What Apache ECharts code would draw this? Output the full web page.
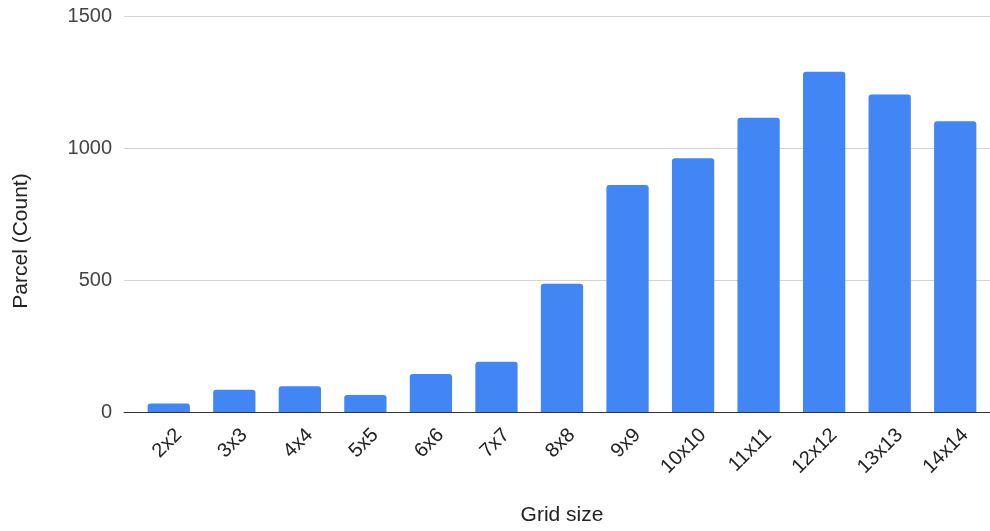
<!DOCTYPE html>
<html>
<head>
<meta charset="utf-8">
<script src="https://cdn.jsdelivr.net/npm/echarts@6/dist/echarts.min.js"></script>
<style>
  html, body { margin: 0; padding: 0; background: #fff; }
  #chart { width: 990px; height: 531px; }
</style>
</head>
<body>
<div id="chart"></div>
<script>
// Parcel counts per grid size
const gridSizes = ['2x2', '3x3', '4x4', '5x5', '6x6', '7x7', '8x8', '9x9', '10x10', '11x11', '12x12', '13x13', '14x14'];
const parcelCounts = [32, 84, 98, 64, 144, 190, 486, 860, 961, 1115, 1289, 1203, 1101];
const yTicks = [0, 500, 1000, 1500];

const FONT = '"Liberation Sans", Arial, sans-serif';
const yMin = yTicks[0];
const yMax = yTicks[yTicks.length - 1];
const yStep = yTicks[1] - yTicks[0];

const chart = echarts.init(document.getElementById('chart'), null, { renderer: 'canvas' });

chart.setOption({
  animation: false,
  backgroundColor: '#ffffff',
  textStyle: { fontFamily: FONT },
  grid: [
    // gridlines, value labels and baseline
    { left: 124, right: 0, top: 16, bottom: 119, outerBoundsMode: 'none', containLabel: false },
    // bars and category labels
    { left: 136, right: 2, top: 16, bottom: 119, outerBoundsMode: 'none', containLabel: false }
  ],
  xAxis: [
    {
      gridIndex: 0, type: 'value', min: 0, max: 1,
      axisLine: { show: true, onZero: false, lineStyle: { color: '#333333', width: 1 } },
      axisTick: { show: false }, axisLabel: { show: false }, splitLine: { show: false }
    },
    {
      gridIndex: 1, type: 'category', data: gridSizes,
      axisLine: { show: false }, axisTick: { show: false },
      axisLabel: {
        rotate: 45, interval: 0, margin: 10,
        align: 'right', verticalAlign: 'top', lineHeight: 28,
        color: '#222222', fontSize: 20, fontFamily: FONT
      },
      name: 'Grid size', nameLocation: 'middle', nameGap: 93,
      nameTextStyle: { color: '#222222', fontSize: 21, fontFamily: FONT }
    }
  ],
  yAxis: [
    {
      gridIndex: 0, type: 'value', min: yMin, max: yMax, interval: yStep,
      axisLine: { show: false }, axisTick: { show: false },
      axisLabel: { color: '#444444', fontSize: 20, margin: 12, fontFamily: FONT,
        formatter: function (v) { return String(v); } },
      splitLine: { show: true, lineStyle: { color: '#d4d4d4', width: 1 } },
      name: 'Parcel (Count)', nameLocation: 'middle', nameGap: 92,
      nameTextStyle: { color: '#222222', fontSize: 21, fontFamily: FONT, padding: [0, 54, 0, 0] }
    },
    {
      gridIndex: 1, type: 'value', min: yMin, max: yMax, interval: yStep,
      show: false, splitLine: { show: false }
    }
  ],
  series: [
    {
      type: 'bar',
      xAxisIndex: 1, yAxisIndex: 1,
      data: parcelCounts,
      barWidth: '64.5%',
      itemStyle: { color: '#4285F4', borderRadius: [3, 3, 0, 0] }
    }
  ]
});
</script>
</body>
</html>
